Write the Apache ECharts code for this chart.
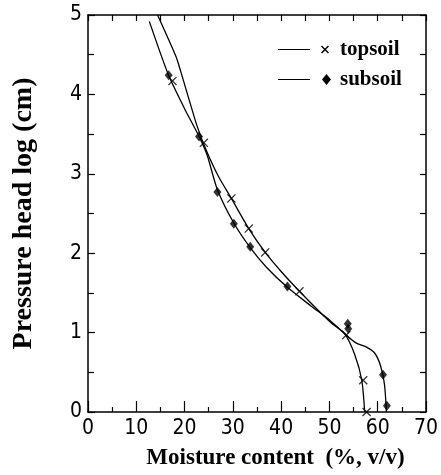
<!DOCTYPE html>
<html>
<head>
<meta charset="utf-8">
<script src="https://cdn.jsdelivr.net/npm/echarts@6/dist/echarts.min.js"></script>
<style>
  html, body { margin: 0; padding: 0; background: #fff; }
  #main { width: 441px; height: 475px; }
</style>
</head>
<body>
<div id="main"></div>
<script>
// measured points
var topsoilX = [17.5, 24.0, 29.7, 33.3, 36.7, 43.8, 53.5, 57.0, 57.7];
var topsoilY = [4.17, 3.39, 2.69, 2.31, 2.01, 1.52, 0.97, 0.40, 0.0];
var subsoilX = [16.7, 23.0, 26.8, 30.2, 33.6, 41.3, 53.8, 53.9, 61.1, 61.9];
var subsoilY = [4.24, 3.47, 2.77, 2.37, 2.08, 1.58, 1.11, 1.05, 0.47, 0.08];

// fitted curves
var topCurveX = [14.4, 18.2, 19.2, 22.6, 24.4, 27.0, 29.7, 33.3, 36.7, 40.0, 43.8, 47.5, 50.4, 53.1, 55.2, 56.7, 57.3];
var topCurveY = [5.0, 4.48, 4.29, 3.6, 3.31, 2.97, 2.69, 2.31, 2.01, 1.77, 1.52, 1.29, 1.12, 0.99, 0.73, 0.40, 0.0];
var subCurveX = [12.7, 16.7, 20.0, 23.0, 24.7, 26.8, 30.2, 33.6, 37.0, 41.3, 46.3, 50.0, 53.1, 55.5, 57.6, 59.4, 60.6, 61.4, 61.8];
var subCurveY = [4.92, 4.24, 3.82, 3.47, 3.23, 2.8, 2.38, 2.07, 1.82, 1.57, 1.33, 1.16, 0.99, 0.87, 0.82, 0.74, 0.58, 0.35, 0.0];

function pairs(xs, ys) {
    return xs.map(function (x, i) { return [x, ys[i]]; });
}

var crossPath = 'path://M0,1L1,0L5,4L9,0L10,1L6,5L10,9L9,10L5,6L1,10L0,9L4,5Z';
var legendTop = 'path://M0,5.4L32,5.4L32,6.6L0,6.6Z M43,3L44,2L47,5L50,2L51,3L48,6L51,9L50,10L47,7L44,10L43,9L46,6Z M47,0L47,0.01L47.01,0Z M47,12L47,11.99L47.01,12Z M53,6L53,6.01L53.01,6Z';
var legendSub = 'path://M0,5.4L32,5.4L32,6.6L0,6.6Z M48.5,0.5L53,6L48.5,11.5L44,6Z M48.5,0L48.5,0.01L48.51,0Z M48.5,12L48.5,11.99L48.51,12Z';

var tickFont = { color: '#000', fontFamily: 'DejaVu Sans Condensed, Liberation Sans Narrow, sans-serif', fontSize: 21 };
var serif = 'Liberation Serif, Times New Roman, serif';
var axisLine = { show: true, onZero: false, lineStyle: { color: '#000', width: 1.5 } };
var tickLine = { color: '#000', width: 1.2 };

var chart = echarts.init(document.getElementById('main'));
chart.setOption({
    backgroundColor: '#fff',
    animation: false,
    grid: { left: 88, right: 12, top: 15, bottom: 60 },
    legend: {
        orient: 'vertical',
        left: 273,
        top: 34,
        itemWidth: 53,
        itemHeight: 12,
        itemGap: 9,
        textStyle: { color: '#000', fontFamily: serif, fontWeight: 'bold', fontSize: 21, padding: [0, 0, 0, 4] },
        data: [
            { name: 'topsoil', icon: legendTop, itemStyle: { color: '#000' } },
            { name: 'subsoil', icon: legendSub, itemStyle: { color: '#000' } }
        ]
    },
    xAxis: [{
        type: 'value', min: 0, max: 70, interval: 10,
        name: 'Moisture content  (%, v/v)', nameLocation: 'middle', nameGap: 35,
        nameTextStyle: { color: '#000', fontFamily: serif, fontWeight: 'bold', fontSize: 23, padding: [0, 0, 0, 37] },
        axisLine: axisLine,
        axisTick: { inside: true, length: 11, lineStyle: tickLine },
        minorTick: { show: true, splitNumber: 2, length: 5, lineStyle: tickLine },
        axisLabel: { margin: 6, color: tickFont.color, fontFamily: tickFont.fontFamily, fontSize: tickFont.fontSize },
        splitLine: { show: false }
    }, {
        type: 'value', min: 0, max: 70, interval: 10, position: 'top',
        axisLine: axisLine,
        axisTick: { inside: true, length: 6, lineStyle: tickLine },
        minorTick: { show: true, splitNumber: 2, length: 6, lineStyle: tickLine },
        axisLabel: { show: false },
        splitLine: { show: false }
    }],
    yAxis: [{
        type: 'value', min: 0, max: 5, interval: 1,
        name: 'Pressure head log (cm)', nameLocation: 'middle', nameGap: 50,
        nameTextStyle: { color: '#000', fontFamily: serif, fontWeight: 'bold', fontSize: 28 },
        axisLine: axisLine,
        axisTick: { inside: true, length: 7, lineStyle: tickLine },
        minorTick: { show: true, splitNumber: 2, length: 6, lineStyle: tickLine },
        axisLabel: { margin: 6, color: tickFont.color, fontFamily: tickFont.fontFamily, fontSize: tickFont.fontSize },
        splitLine: { show: false }
    }, {
        type: 'value', min: 0, max: 5, interval: 1, position: 'right',
        axisLine: axisLine,
        axisTick: { inside: true, length: 6, lineStyle: tickLine },
        minorTick: { show: true, splitNumber: 2, length: 6, lineStyle: tickLine },
        axisLabel: { show: false },
        splitLine: { show: false }
    }],
    series: [
        {
            name: 'topsoil', type: 'line', smooth: 0.25, showSymbol: false,
            lineStyle: { color: '#000', width: 1.3 },
            data: pairs(topCurveX, topCurveY)
        },
        {
            name: 'subsoil', type: 'line', smooth: 0.25, showSymbol: false,
            lineStyle: { color: '#000', width: 1.3 },
            data: pairs(subCurveX, subCurveY)
        },
        {
            name: 'topsoil', type: 'scatter', symbol: crossPath, symbolSize: 9,
            itemStyle: { color: '#000' },
            data: pairs(topsoilX, topsoilY)
        },
        {
            name: 'subsoil', type: 'scatter', symbol: 'diamond', symbolSize: [8, 10],
            itemStyle: { color: '#000' },
            data: pairs(subsoilX, subsoilY)
        }
    ]
});
</script>
</body>
</html>
